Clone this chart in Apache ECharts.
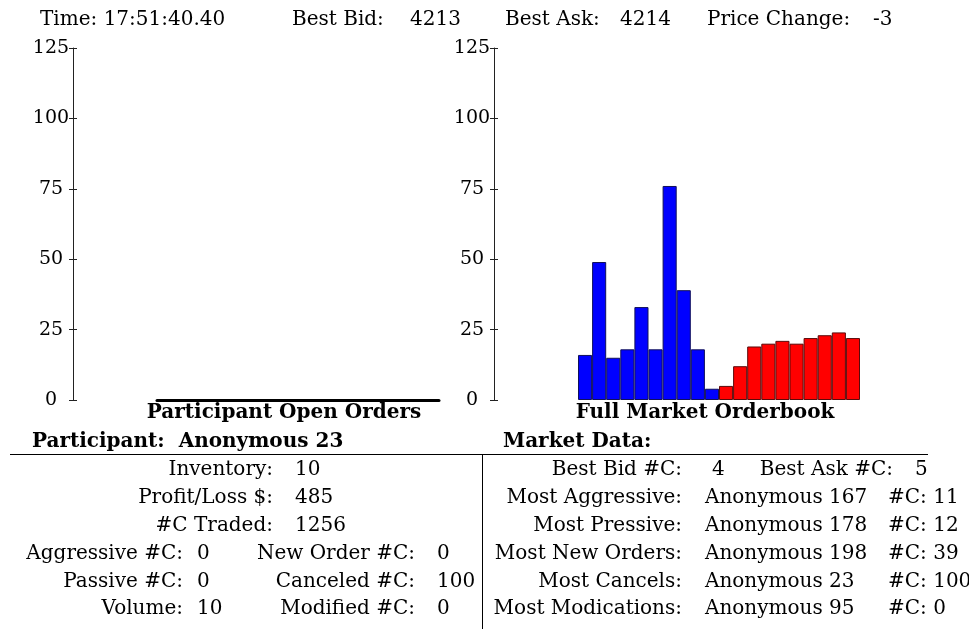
<!DOCTYPE html>
<html>
<head>
<meta charset="utf-8">
<script src="https://cdn.jsdelivr.net/npm/echarts@6/dist/echarts.min.js"></script>
<style>
  html, body { margin: 0; padding: 0; background: #fff; }
  #main { width: 969px; height: 629px; }
</style>
</head>
<body>
<div id="main"></div>
<script>
// price levels shown in the orderbook (10 bid levels, 10 ask levels)
var priceLevels = ['4204', '4205', '4206', '4207', '4208', '4209', '4210', '4211', '4212', '4213',
                   '4214', '4215', '4216', '4217', '4218', '4219', '4220', '4221', '4222', '4223'];
var bidSizes = [16, 49, 15, 18, 33, 18, 76, 39, 18, 4];
var askSizes = [5, 12, 19, 20, 21, 20, 22, 23, 24, 22];
var openOrderSizes = [];   // participant has no open orders
var yMax = 125, yStep = 25;

// header line
var headerLabels = ['Time:', 'Best Bid:', 'Best Ask:', 'Price Change:'];
var headerValues = ['17:51:40.40', '4213', '4214', '-3'];

// participant panel
var participantName = 'Anonymous 23';
var partTopLabels = ['Inventory:', 'Profit/Loss $:', '#C Traded:'];
var partTopValues = ['10', '485', '1256'];
var partLeftLabels = ['Aggressive #C:', 'Passive #C:', 'Volume:'];
var partLeftValues = ['0', '0', '10'];
var partRightLabels = ['New Order #C:', 'Canceled #C:', 'Modified #C:'];
var partRightValues = ['0', '100', '0'];

// market panel
var bestBidCount = '4', bestAskCount = '5';
var marketLabels = ['Most Aggressive:', 'Most Pressive:', 'Most New Orders:', 'Most Cancels:', 'Most Modications:'];
var marketNames = ['Anonymous 167', 'Anonymous 178', 'Anonymous 198', 'Anonymous 23', 'Anonymous 95'];
var marketCounts = ['11', '12', '39', '100', '0'];

var FONT = '"DejaVu Serif", serif';

function txt(s, x, y, align, bold) {
  return {
    type: 'text', x: x, y: y, silent: true,
    style: {
      text: s, fill: '#000',
      font: (bold ? 'bold ' : '') + '20px ' + FONT,
      textAlign: align || 'left', textVerticalAlign: 'middle',
      align: align || 'left', verticalAlign: 'middle'
    }
  };
}
function line(x1, y1, x2, y2) {
  return { type: 'line', silent: true, shape: { x1: x1, y1: y1, x2: x2, y2: y2 },
           style: { stroke: '#000', lineWidth: 1 } };
}

var g = [];
// header
var hx = [[40, null], [292, 410], [505, 620], [707, 873]];
headerLabels.forEach(function (l, i) {
  if (i === 0) g.push(txt(l + ' ' + headerValues[i], hx[i][0], 20));
  else { g.push(txt(l, hx[i][0], 20)); g.push(txt(headerValues[i], hx[i][1], 20)); }
});
// chart titles
g.push(txt('Participant Open Orders', 284, 413, 'center', true));
g.push(txt('Full Market Orderbook', 705, 413, 'center', true));
// section headers + rules
g.push(txt('Participant:  ' + participantName, 32, 442, 'left', true));
g.push(txt('Market Data:', 503, 442, 'left', true));
g.push(line(10, 454.5, 928, 454.5));
g.push(line(482.5, 455, 482.5, 629));

var rowY = [470, 498, 526, 554, 582, 609];
partTopLabels.forEach(function (l, i) {
  g.push(txt(l, 273, rowY[i], 'right'));
  g.push(txt(partTopValues[i], 295, rowY[i]));
});
partLeftLabels.forEach(function (l, i) {
  g.push(txt(l, 183, rowY[i + 3], 'right'));
  g.push(txt(partLeftValues[i], 197, rowY[i + 3]));
  g.push(txt(partRightLabels[i], 415, rowY[i + 3], 'right'));
  g.push(txt(partRightValues[i], 437, rowY[i + 3]));
});
g.push(txt('Best Bid #C:', 682, rowY[0], 'right'));
g.push(txt(bestBidCount, 712, rowY[0]));
g.push(txt('Best Ask #C:', 893, rowY[0], 'right'));
g.push(txt(bestAskCount, 915, rowY[0]));
marketLabels.forEach(function (l, i) {
  g.push(txt(l, 682, rowY[i + 1], 'right'));
  g.push(txt(marketNames[i], 705, rowY[i + 1]));
  g.push(txt('#C: ' + marketCounts[i], 888, rowY[i + 1]));
});

function yAxes(gi) {
  var base = {
    gridIndex: gi, type: 'value', position: 'left', min: 0, max: yMax, interval: yStep,
    offset: 84, splitLine: { show: false }
  };
  return [
    Object.assign({}, base, {
      axisLine: { show: true, lineStyle: { color: '#222', width: 1 } },
      axisTick: { show: true, inside: false, length: 4, lineStyle: { color: '#222' } },
      axisLabel: { show: true, align: 'center', margin: 22, color: '#000', fontFamily: FONT, fontSize: 19 }
    }),
    Object.assign({}, base, {
      axisLine: { show: false },
      axisTick: { show: true, inside: true, length: 4, lineStyle: { color: '#222' } },
      axisLabel: { show: false }
    })
  ];
}
function xAxis(gi, showLine) {
  return {
    gridIndex: gi, type: 'category', data: priceLevels,
    axisLine: { show: showLine, lineStyle: { color: '#000', width: 3 } },
    axisTick: { show: false }, axisLabel: { show: false }, splitLine: { show: false }
  };
}

var bidData = bidSizes.concat(askSizes.map(function () { return null; }));
var askData = bidSizes.map(function () { return null; }).concat(askSizes);

var chart = echarts.init(document.getElementById('main'));
chart.setOption({
  animation: false,
  backgroundColor: '#fff',
  grid: [
    { left: 157, top: 48, width: 282, height: 352 },
    { left: 578, top: 48, width: 282, height: 352 }
  ],
  xAxis: [xAxis(0, true), xAxis(1, false)],
  yAxis: yAxes(0).concat(yAxes(1)),
  series: [
    { type: 'bar', xAxisIndex: 0, yAxisIndex: 0, data: openOrderSizes },
    {
      name: 'Bids', type: 'bar', xAxisIndex: 1, yAxisIndex: 2, data: bidData,
      barCategoryGap: '0%', barGap: '-100%',
      itemStyle: { color: '#0000ff', borderColor: '#10105a', borderWidth: 1 }
    },
    {
      name: 'Asks', type: 'bar', xAxisIndex: 1, yAxisIndex: 2, data: askData,
      barCategoryGap: '0%', barGap: '-100%',
      itemStyle: { color: '#ff0000', borderColor: '#5a0a0a', borderWidth: 1 }
    }
  ],
  graphic: g
});
</script>
</body>
</html>
